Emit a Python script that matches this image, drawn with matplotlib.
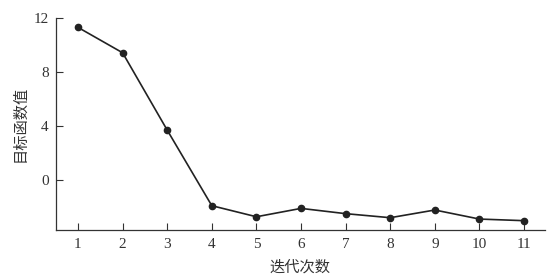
import matplotlib
matplotlib.use('Agg')
import matplotlib.pyplot as plt

# iteration number vs objective value
iters = [1, 2, 3, 4, 5, 6, 7, 8, 9, 10, 11]
obj_vals = [11.31, 9.43, 3.70, -1.90, -2.72, -2.10, -2.49, -2.79, -2.22, -2.89, -3.01]
y_ticks = [0, 4, 8, 12]

plt.rcParams['font.family'] = ['Liberation Serif', 'Noto Sans CJK SC']

fig = plt.figure(figsize=(5.54, 2.78), dpi=100)
ax = fig.add_axes([0.1005, 0.1727, 0.8833, 0.7623])

ax.plot(iters, obj_vals, color='#222222', linewidth=1.2, marker='o', markersize=4.5)

ax.set_xlim(0.5, 11.47)
ax.set_ylim(-3.7, 12)
ax.set_xticks(iters)
ax.set_yticks(y_ticks)
ax.tick_params(direction='in', length=5, width=0.8, labelsize=11, colors='#333333')
ax.tick_params(axis='x', pad=6)
ax.tick_params(axis='y', pad=5)
for s in ['top', 'right']:
    ax.spines[s].set_visible(False)
for s in ['left', 'bottom']:
    ax.spines[s].set_linewidth(0.9)
    ax.spines[s].set_color('#333333')

ax.set_xlabel('迭代次数', fontsize=11, family=['Noto Sans CJK SC'], color='#333333', labelpad=5)
ax.set_ylabel('目标函数值', fontsize=11, family=['Noto Sans CJK SC'], color='#333333', labelpad=4)

fig.savefig('out.png', dpi=100)
